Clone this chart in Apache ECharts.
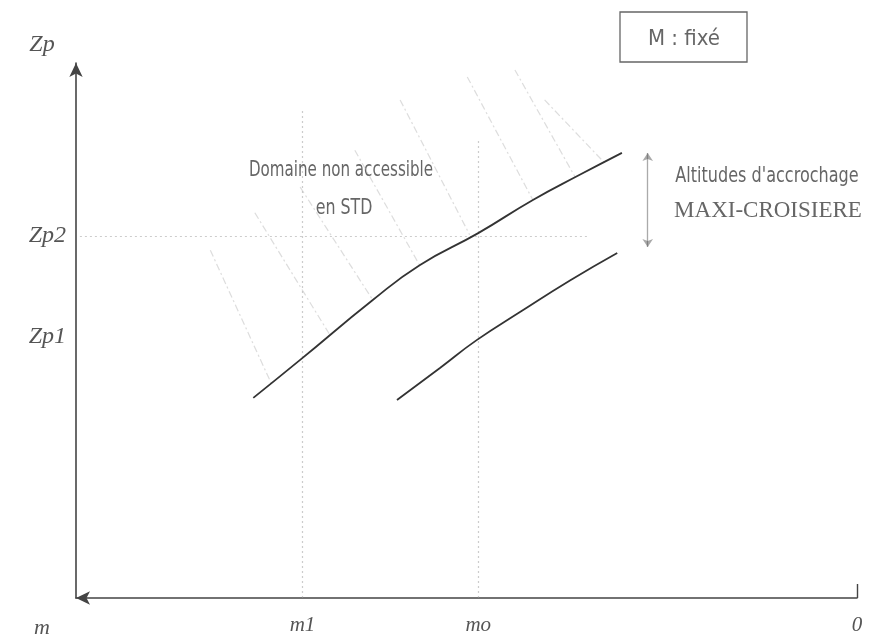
<!DOCTYPE html>
<html>
<head>
<meta charset="utf-8">
<script src="https://cdn.jsdelivr.net/npm/echarts@6/dist/echarts.min.js"></script>
<style>html,body{margin:0;padding:0;background:#fff}#c{width:883px;height:639px}</style>
</head>
<body>
<div id="c"></div>
<script>
// ---- data (schematic units; x = mass axis, reversed: 0 at right) ----
const xTickValues = [0, 48.5, 71];
const xTickLabels = ['0', 'mo', 'm1'];
const yTickValues = [48.8, 67.7];
const yTickLabels = ['Zp1', 'Zp2'];
const m1 = 71, mo = 48.5, zp1 = 48.8, zp2 = 67.7;

// upper curve (limit of accessible domain)
const upperX = [77.3, 71.3, 62.0, 56.0, 48.5, 41.5, 35.5, 30.1];
const upperY = [37.4, 44.5, 55.7, 62.2, 68.2, 74.4, 79.1, 83.2];
// lower curve
const lowerX = [58.9, 53.4, 48.7, 43.1, 36.7, 30.7];
const lowerY = [37.0, 43.0, 48.2, 53.5, 59.4, 64.5];

// hatching of the "non accessible" domain: start / end points
const hatchStartX = [82.8, 77.1, 71.3, 64.3, 58.5, 49.9, 43.8, 40.0];
const hatchStartY = [65.0, 72.0, 76.8, 83.7, 93.1, 97.4, 98.7, 93.1];
const hatchEndX   = [74.9, 67.5, 62.0, 56.0, 49.6, 41.5, 36.1, 32.3];
const hatchEndY   = [39.8, 49.2, 55.7, 62.2, 67.9, 74.4, 78.7, 81.3];

// reference (dotted) lines extents
const m1LineTop = 91.2, moLineTop = 85.6, zp2LineRight = 34.2, zp2LineLeft = 99.5;
// "altitudes d'accrochage" double arrow
const arrowX = 26.8, arrowTop = 83.2, arrowBottom = 65.6;

const zip = (xs, ys) => xs.map((x, i) => [x, ys[i]]);
const hatchData = hatchStartX.map((x, i) => ({coords: [[x, hatchStartY[i]], [hatchEndX[i], hatchEndY[i]]]}));
const refData = [
  {coords: [[m1, 0], [m1, m1LineTop]]},
  {coords: [[mo, 0], [mo, moLineTop]]},
  {coords: [[zp2LineLeft, zp2], [zp2LineRight, zp2]]}
];

const narrow = '"Liberation Sans Narrow","DejaVu Sans Condensed","Liberation Sans",sans-serif';

const chart = echarts.init(document.getElementById('c'), null, {renderer: 'canvas'});
chart.setOption({
  backgroundColor: '#fff',
  animation: false,
  grid: {left: 76, right: 26, top: 63, bottom: 41, containLabel: false},
  xAxis: {
    type: 'value', min: 0, max: 100, inverse: true,
    splitLine: {show: false},
    axisLine: {show: true, symbol: ['arrow', 'none'], symbolSize: [10, 14], lineStyle: {color: '#444', width: 1.6}},
    axisTick: {show: true, inside: true, length: 14, customValues: [0], lineStyle: {color: '#444', width: 1.4}},
    axisLabel: {
      customValues: xTickValues, margin: 17,
      formatter: v => xTickLabels[xTickValues.indexOf(v)] ?? '',
      fontFamily: 'Liberation Serif', fontStyle: 'italic', fontSize: 21, color: '#555'
    }
  },
  yAxis: {
    type: 'value', min: 0, max: 100,
    splitLine: {show: false},
    axisLine: {show: true, onZero: false, symbol: ['none', 'arrow'], symbolSize: [10, 14], lineStyle: {color: '#444', width: 1.6}},
    axisTick: {show: false},
    axisLabel: {
      customValues: yTickValues, margin: 10,
      formatter: v => yTickLabels[yTickValues.indexOf(v)] ?? '',
      fontFamily: 'Liberation Serif', fontStyle: 'italic', fontSize: 24, color: '#555'
    }
  },
  graphic: [
    {type: 'text', x: 42, y: 45, style: {text: 'Zp', font: 'italic 24px "Liberation Serif"', fill: '#555', align: 'center', verticalAlign: 'middle'}},
    {type: 'text', x: 42, y: 628, style: {text: 'm', font: 'italic 22px "Liberation Serif"', fill: '#555', align: 'center', verticalAlign: 'middle'}},
    {type: 'rect', shape: {x: 620, y: 12, width: 127, height: 50}, style: {fill: '#fff', stroke: '#666', lineWidth: 1.3}},
    {type: 'text', x: 684, y: 39, style: {text: 'M : fixé', font: '22px ' + narrow, fill: '#666', align: 'center', verticalAlign: 'middle'}},
    {type: 'text', x: 341, y: 171, scaleX: 0.8, style: {text: 'Domaine non accessible', font: '21px ' + narrow, fill: '#666', align: 'center', verticalAlign: 'middle'}},
    {type: 'text', x: 344, y: 208, scaleX: 0.8, style: {text: 'en STD', font: '22px ' + narrow, fill: '#666', align: 'center', verticalAlign: 'middle'}},
    {type: 'text', x: 767, y: 177, scaleX: 0.85, style: {text: "Altitudes d'accrochage", font: '21px ' + narrow, fill: '#666', align: 'center', verticalAlign: 'middle'}},
    {type: 'text', x: 768, y: 211, style: {text: 'MAXI-CROISIERE', font: '23px "Liberation Serif"', fill: '#666', align: 'center', verticalAlign: 'middle'}}
  ],
  series: [
    {type: 'lines', coordinateSystem: 'cartesian2d', silent: true, data: refData,
     lineStyle: {color: '#999', width: 1.2, type: [2, 3]}},
    {type: 'lines', coordinateSystem: 'cartesian2d', silent: true, data: hatchData,
     lineStyle: {color: '#bbbbbb', width: 1.2, type: [7, 3, 2, 3]}},
    {type: 'line', data: zip(upperX, upperY), smooth: 0.5, showSymbol: false, silent: true,
     lineStyle: {color: '#333', width: 1.8}},
    {type: 'line', data: zip(lowerX, lowerY), smooth: 0.5, showSymbol: false, silent: true,
     lineStyle: {color: '#333', width: 1.8}},
    {type: 'lines', coordinateSystem: 'cartesian2d', silent: true,
     symbol: ['arrow', 'arrow'], symbolSize: 8,
     data: [{coords: [[arrowX, arrowBottom], [arrowX, arrowTop]]}],
     lineStyle: {color: '#555', width: 1.3}}
  ]
});
</script>
</body>
</html>
